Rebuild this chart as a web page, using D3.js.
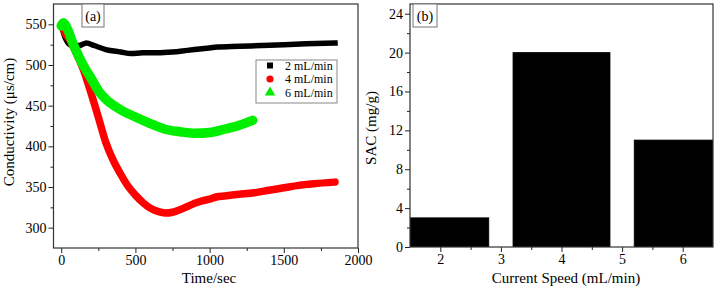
<!DOCTYPE html>
<html>
<head>
<meta charset="utf-8">
<script src="https://cdn.jsdelivr.net/npm/d3@7"></script>
<style>
  body { margin: 0; background: #fff; }
  svg { display: block; font-family: "Liberation Serif", "Times New Roman", serif; }
</style>
</head>
<body>
<div id="chart"></div>
<script>
const WIDTH = 718;
const HEIGHT = 290;

// panel (a): conductivity vs time
const time2 = [0, 30, 70, 120, 170, 220, 300, 400, 470, 550, 650, 750, 850, 950, 1050, 1200, 1350, 1500, 1650, 1845];
const cond2 = [549, 532, 524, 524, 527, 524, 519, 516, 514, 515, 515, 516, 518, 520, 522, 523, 524, 525, 526, 527];

const time4 = [0, 30, 60, 100, 150, 200, 250, 300, 350, 400, 450, 500, 550, 600, 650, 700, 750, 800, 850, 900, 950, 1000, 1050, 1100, 1200, 1300, 1400, 1500, 1600, 1700, 1845];
const cond4 = [550, 538, 530, 515, 494, 466, 436, 405, 383, 366, 351, 340, 331, 324, 320, 318, 319, 322, 326, 330, 333, 335, 338, 339, 341, 343, 346, 349, 352, 354, 356];

const time6 = [0, 15, 40, 80, 120, 160, 200, 260, 300, 400, 500, 600, 700, 800, 900, 1000, 1100, 1200, 1290];
const cond6 = [548, 552, 545, 526, 510, 496, 484, 466, 458, 445, 436, 428, 421, 418, 416, 417, 421, 426, 432];

const seriesNames = ["2 mL/min", "4 mL/min", "6 mL/min"];
const seriesColors = ["#000000", "#ff0000", "#00ee00"];

const timeTicks = [0, 500, 1000, 1500, 2000];
const condTicks = [300, 350, 400, 450, 500, 550];

// panel (b): SAC vs current speed
const speeds = [2, 4, 6];
const sac = [3, 20, 11];
const speedTicks = [2, 3, 4, 5, 6];
const sacTicks = [0, 4, 8, 12, 16, 20, 24];

const svg = d3.select("#chart").append("svg")
  .attr("width", WIDTH)
  .attr("height", HEIGHT);

function frame(g, x0, y0, x1, y1) {
  g.append("rect")
    .attr("x", x0).attr("y", y0)
    .attr("width", x1 - x0).attr("height", y1 - y0)
    .attr("fill", "none")
    .attr("stroke", "#333")
    .attr("stroke-width", 1.2);
}

function axes(g, x, y, xMajor, xMinor, yMajor, yMinor, fmtX, fmtY) {
  const [yb] = y.range();
  const [xl] = x.range();
  const xg = g.append("g").attr("transform", `translate(0,${yb})`);
  xg.call(d3.axisBottom(x).tickValues(xMinor).tickSize(3).tickFormat(""));
  xg.append("g").call(d3.axisBottom(x).tickValues(xMajor).tickSize(5).tickPadding(2).tickFormat(fmtX));
  const yg = g.append("g").attr("transform", `translate(${xl},0)`);
  yg.call(d3.axisLeft(y).tickValues(yMinor).tickSize(3).tickFormat(""));
  yg.append("g").call(d3.axisLeft(y).tickValues(yMajor).tickSize(5).tickPadding(2).tickFormat(fmtY));
  g.selectAll(".domain").remove();
  g.selectAll(".tick line").attr("stroke", "#222").attr("stroke-width", 1);
  g.selectAll(".tick text").attr("font-size", "14px").attr("fill", "#000")
    .attr("font-family", "Liberation Serif, serif");
}

function tagBox(g, x0, y0, w, h, label) {
  g.append("rect").attr("x", x0).attr("y", y0).attr("width", w).attr("height", h)
    .attr("fill", "#fff").attr("stroke", "#777").attr("stroke-width", 1);
  g.append("text").attr("x", x0 + w / 2).attr("y", y0 + h - 6)
    .attr("text-anchor", "middle").attr("font-size", "14px").text(label);
}

// ---------- panel (a)
const A = { left: 53.5, right: 358, top: 4, bottom: 248 };
const xA = d3.scaleLinear().domain([-52, 2000]).range([A.left, A.right]);
const yA = d3.scaleLinear().domain([275, 575]).range([A.bottom, A.top]);
const gA = svg.append("g");

gA.append("clipPath").attr("id", "clipA").append("rect")
  .attr("x", A.left).attr("y", A.top).attr("width", A.right - A.left).attr("height", A.bottom - A.top);

const series = [
  { t: time2, v: cond2, w: 5.5 },
  { t: time4, v: cond4, w: 7.5 },
  { t: time6, v: cond6, w: 9.5 }
];
const line = d3.line().x(d => xA(d[0])).y(d => yA(d[1])).curve(d3.curveMonotoneX);
const plotA = gA.append("g").attr("clip-path", "url(#clipA)");
series.forEach((s, i) => {
  plotA.append("path")
    .datum(s.t.map((t, j) => [t, s.v[j]]))
    .attr("d", line)
    .attr("fill", "none")
    .attr("stroke", seriesColors[i])
    .attr("stroke-width", s.w)
    .attr("stroke-linejoin", "round")
    .attr("stroke-linecap", i === 0 ? "square" : "round");
});

axes(gA, xA, yA, timeTicks, [250, 750, 1250, 1750], condTicks,
  [325, 375, 425, 475, 525], d3.format("d"), d3.format("d"));
frame(gA, A.left, A.top, A.right, A.bottom);
tagBox(gA, 82, 4, 22, 23, "(a)");

// legend
const leg = gA.append("g");
leg.append("rect").attr("x", 256).attr("y", 60).attr("width", 81).attr("height", 43)
  .attr("fill", "#fff").attr("stroke", "#888").attr("stroke-width", 1);
const symbols = [d3.symbolSquare, d3.symbolCircle, d3.symbolTriangle];
const symSize = [36, 40, 48];
seriesNames.forEach((name, i) => {
  const yy = 69.5 + i * 13.5;
  leg.append("path")
    .attr("d", d3.symbol(symbols[i], symSize[i]))
    .attr("transform", `translate(270,${yy - 4})`)
    .attr("fill", seriesColors[i]);
  leg.append("text").attr("x", 285).attr("y", yy)
    .attr("font-size", "12px").text(name);
});

gA.append("text").attr("x", 209).attr("y", 283)
  .attr("text-anchor", "middle").attr("font-size", "15px").text("Time/sec");
gA.append("text")
  .attr("transform", `translate(14,122) rotate(-90)`)
  .attr("text-anchor", "middle").attr("font-size", "15px").text("Conductivity (μs/cm)");

// ---------- panel (b)
const B = { left: 410, right: 713, top: 4, bottom: 247 };
const xB = d3.scaleLinear().domain([1.5, 6.5]).range([B.left, B.right]);
const yB = d3.scaleLinear().domain([0, 25]).range([B.bottom, B.top]);
const gB = svg.append("g");
gB.append("clipPath").attr("id", "clipB").append("rect")
  .attr("x", B.left).attr("y", B.top).attr("width", B.right - B.left).attr("height", B.bottom - B.top);

const barWidth = 1.6;
gB.append("g").attr("clip-path", "url(#clipB)")
  .selectAll("rect")
  .data(speeds)
  .join("rect")
  .attr("x", d => xB(d - barWidth / 2))
  .attr("width", xB(barWidth) - xB(0))
  .attr("y", (d, i) => yB(sac[i]))
  .attr("height", (d, i) => yB(0) - yB(sac[i]))
  .attr("fill", "#000")
  .attr("stroke", "#000")
  .attr("stroke-width", 0.8);

axes(gB, xB, yB, speedTicks, [2.5, 3.5, 4.5, 5.5], sacTicks,
  [2, 6, 10, 14, 18, 22], d3.format("d"), d3.format("d"));
frame(gB, B.left, B.top, B.right, B.bottom);
tagBox(gB, 413, 4, 24, 23, "(b)");

gB.append("text").attr("x", 566).attr("y", 283)
  .attr("text-anchor", "middle").attr("font-size", "15px").text("Current Speed (mL/min)");
gB.append("text")
  .attr("transform", `translate(376,128) rotate(-90)`)
  .attr("text-anchor", "middle").attr("font-size", "15px").text("SAC (mg/g)");
</script>
</body>
</html>
